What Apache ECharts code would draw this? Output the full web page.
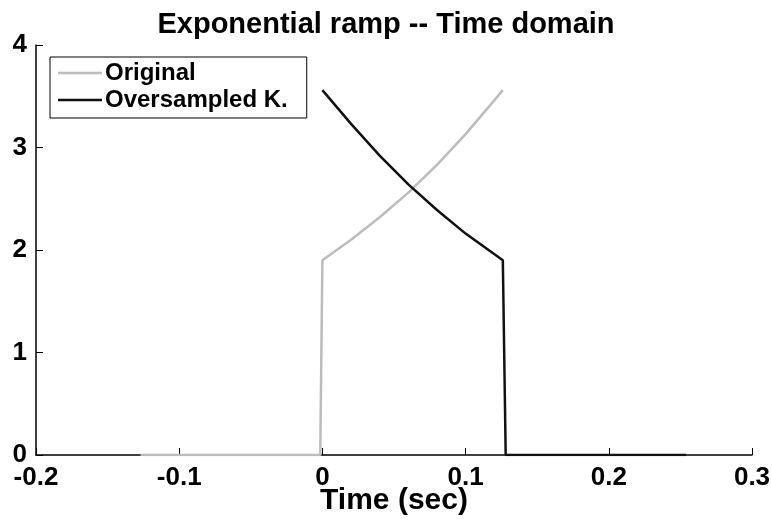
<!DOCTYPE html>
<html>
<head>
<meta charset="utf-8">
<script src="https://cdn.jsdelivr.net/npm/echarts@6/dist/echarts.min.js"></script>
<style>
  html, body { margin: 0; padding: 0; background: #fff; }
  #chart { width: 772px; height: 525px; }
</style>
</head>
<body>
<div id="chart"></div>
<script>
// 时间点与数值
const originalTime = [-0.127, -0.0015, 0, 0.02, 0.04, 0.06, 0.08, 0.10, 0.12, 0.126];
const originalValue = [0, 0, 1.90, 2.10, 2.32, 2.56, 2.83, 3.13, 3.46, 3.56];
const overTime = [0, 0.02, 0.04, 0.06, 0.08, 0.10, 0.126, 0.128, 0.254];
const overValue = [3.56, 3.23, 2.92, 2.64, 2.39, 2.16, 1.90, 0, 0];
const xTicks = [-0.2, 0.3, 0.1]; // min, max, interval
const yTicks = [0, 4, 1];

const pair = (xs, ys) => xs.map((x, i) => [x, ys[i]]);
const font = 'Liberation Sans, Arial, sans-serif';

const chart = echarts.init(document.getElementById('chart'));

const option = {
    animation: false,
    title: {
        text: 'Exponential ramp -- Time domain',
        left: 'center',
        top: 5,
        textStyle: { fontFamily: font, fontSize: 29, fontWeight: 'bold', color: '#000' }
    },
    legend: {
        orient: 'vertical',
        left: 50,
        top: 57,
        icon: 'rect',
        itemWidth: 44,
        itemHeight: 2.5,
        itemGap: 3,
        padding: [4, 19, 6, 8],
        borderColor: '#000',
        borderWidth: 1,
        textStyle: { fontFamily: font, fontSize: 24, fontWeight: 'bold', color: '#000', padding: [0, 0, 0, -2] },
        data: ['Original', 'Oversampled K.']
    },
    grid: { left: 36, right: 20, top: 45, bottom: 70, containLabel: false, outerBoundsMode: 'none' },
    xAxis: {
        type: 'value',
        min: xTicks[0],
        max: xTicks[1],
        interval: xTicks[2],
        name: 'Time (sec)',
        nameLocation: 'middle',
        nameGap: 31,
        nameMoveOverlap: false,
        nameTextStyle: { fontFamily: font, fontSize: 30, fontWeight: 'bold', color: '#000' },
        axisLine: { lineStyle: { color: '#000', width: 1.5 } },
        axisTick: { inside: true, length: 7, lineStyle: { color: '#000' } },
        axisLabel: { fontFamily: font, fontSize: 26, fontWeight: 'bold', color: '#000', margin: 10 },
        splitLine: { show: false }
    },
    yAxis: {
        type: 'value',
        min: yTicks[0],
        max: yTicks[1],
        interval: yTicks[2],
        axisLine: { show: true, onZero: false, lineStyle: { color: '#000', width: 1.5 } },
        axisTick: { show: true, inside: true, length: 7, lineStyle: { color: '#000' } },
        axisLabel: { fontFamily: font, fontSize: 26, fontWeight: 'bold', color: '#000', margin: 9 },
        splitLine: { show: false }
    },
    series: [
        {
            name: 'Original',
            type: 'line',
            data: pair(originalTime, originalValue),
            symbol: 'none',
            lineStyle: { color: '#bcbcbc', width: 2.5 },
            itemStyle: { color: '#bcbcbc' }
        },
        {
            name: 'Oversampled K.',
            type: 'line',
            data: pair(overTime, overValue),
            symbol: 'none',
            lineStyle: { color: '#111', width: 2.5 },
            itemStyle: { color: '#111' }
        }
    ]
};

chart.setOption(option);
</script>
</body>
</html>
